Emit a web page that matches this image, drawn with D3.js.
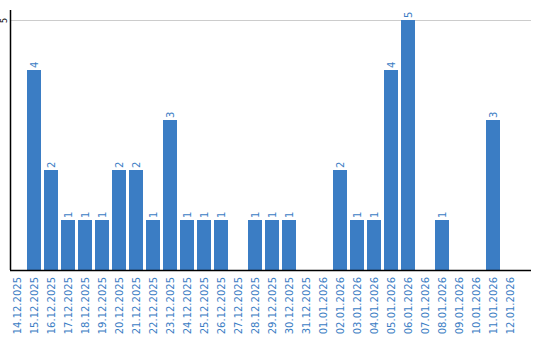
<!DOCTYPE html>
<html>
<head>
<meta charset="utf-8">
<script src="https://cdn.jsdelivr.net/npm/d3@7"></script>
<style>
	body { margin: 0; background: #fff; }
	text { font-family: "DejaVu Sans", Verdana, sans-serif; }
</style>
</head>
<body>
<script>
// dates shown on the x axis
const days = ["14.12.2025", "15.12.2025", "16.12.2025", "17.12.2025", "18.12.2025",
	"19.12.2025", "20.12.2025", "21.12.2025", "22.12.2025", "23.12.2025",
	"24.12.2025", "25.12.2025", "26.12.2025", "27.12.2025", "28.12.2025",
	"29.12.2025", "30.12.2025", "31.12.2025", "01.01.2026", "02.01.2026",
	"03.01.2026", "04.01.2026", "05.01.2026", "06.01.2026", "07.01.2026",
	"08.01.2026", "09.01.2026", "10.01.2026", "11.01.2026", "12.01.2026"]
// count per day
const counts = [0, 4, 2, 1, 1, 1, 2, 2, 1, 3, 1, 1, 1, 0, 1, 1, 1, 0, 0, 2, 1, 1, 4, 5, 0, 1, 0, 0, 3, 0]
// y axis ticks
const yTicks = [5]

const blue = "#3b7dc4";

// set the dimensions and margins of the graph
var margin = { top: 10, right: 9, bottom: 70, left: 10 },
	width = 540 - margin.left - margin.right,
	height = 340 - margin.top - margin.bottom;

var svg = d3.select("body").append("svg")
	.attr("width", 540)
	.attr("height", 340)
	.append("g")
	.attr("transform", "translate(" + margin.left + "," + margin.top + ")");

var x = d3.scaleBand()
	.domain(days)
	.range([0, 507])
	.paddingInner(3 / 17)
	.paddingOuter(0);

var y = d3.scaleLinear()
	.domain([0, 5.2])
	.range([height, 0]);

// gridlines
svg.selectAll(".grid")
	.data(yTicks)
	.enter().append("line")
	.attr("x1", 0)
	.attr("x2", width)
	.attr("y1", d => y(d) + 0.5)
	.attr("y2", d => y(d) + 0.5)
	.attr("stroke", "#cccccc");

// bars
svg.selectAll(".bar")
	.data(counts)
	.enter().append("rect")
	.attr("class", "bar")
	.attr("x", (d, i) => x(days[i]))
	.attr("width", x.bandwidth())
	.attr("y", d => y(d))
	.attr("height", d => height - y(d))
	.attr("fill", blue);

// value labels above bars (only where count > 0)
svg.selectAll(".val")
	.data(counts.map((c, i) => ({ c: c, day: days[i] })).filter(d => d.c > 0))
	.enter().append("text")
	.attr("transform", d => "translate(" + (x(d.day) + x.bandwidth() / 2 + 3.5) + "," + (y(d.c) - 2) + ") rotate(-90)")
	.attr("font-size", "10px")
	.attr("fill", blue)
	.text(d => d.c);

// y axis tick labels
svg.selectAll(".ytick")
	.data(yTicks)
	.enter().append("text")
	.attr("transform", d => "translate(-3.5," + (y(d) + 0.5) + ") rotate(-90)")
	.attr("text-anchor", "middle")
	.attr("font-size", "8px")
	.attr("fill", "#000")
	.text(d => d);

// axis lines
svg.append("line")
	.attr("x1", 0.5).attr("x2", 0.5)
	.attr("y1", 0).attr("y2", height)
	.attr("stroke", "#000").attr("stroke-width", 1.5);

svg.append("line")
	.attr("x1", 0).attr("x2", width)
	.attr("y1", height + 0.5).attr("y2", height + 0.5)
	.attr("stroke", "#000").attr("stroke-width", 1.5);

// x axis labels
svg.selectAll(".xlab")
	.data(days)
	.enter().append("text")
	.attr("transform", d => "translate(" + (x(d) + x.bandwidth() / 2 + 4) + "," + (height + 7) + ") rotate(-90)")
	.attr("text-anchor", "end")
	.attr("font-size", "10px")
	.attr("fill", blue)
	.text(d => d);
</script>
</body>
</html>
